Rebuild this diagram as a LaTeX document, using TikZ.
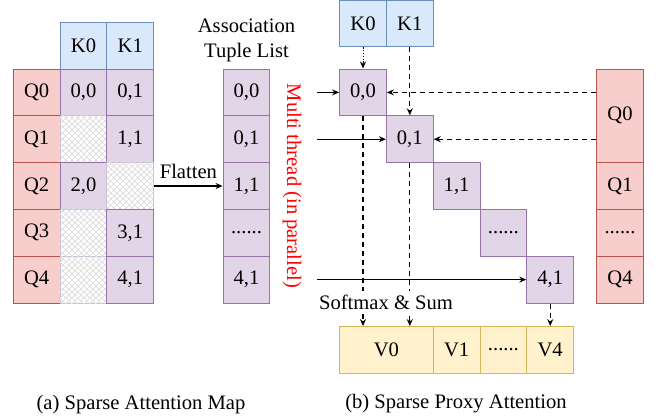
\documentclass[tikz,border=0pt]{standalone}
\usepackage{fontspec}
\setmainfont{Liberation Serif}
\usetikzlibrary{arrows.meta,patterns}

\definecolor{qfill}{HTML}{F8CECC}
\definecolor{qline}{HTML}{B85450}
\definecolor{kfill}{HTML}{DAE8FC}
\definecolor{kline}{HTML}{6C8EBF}
\definecolor{pfill}{HTML}{E1D5E7}
\definecolor{pline}{HTML}{9673A6}
\definecolor{vfill}{HTML}{FFF2CC}
\definecolor{vline}{HTML}{D6B656}

\tikzset{
  cell/.style={draw, line width=0.5pt, minimum width=23.4pt, minimum height=23.4pt, inner sep=0pt},
  qcell/.style={cell, draw=qline, fill=qfill},
  kcell/.style={cell, draw=kline, fill=kfill},
  pcell/.style={cell, draw=pline, fill=pfill},
  vcell/.style={cell, draw=vline, fill=vfill},
  emptycell/.style={cell, draw=pline!45, pattern=north east lines, pattern color=black!12,
    postaction={pattern=north west lines, pattern color=black!12}},
  arr/.style={-{Stealth[length=3.5pt,width=3pt]}, line width=0.6pt},
  dasharr/.style={arr, dash pattern=on 2.5pt off 2pt},
}

\begin{document}
\begin{tikzpicture}[x=0.5pt, y=-0.5pt, font=\rmfamily\fontsize{10.3}{12.4}\selectfont]
    \useasboundingbox (0,0) rectangle (656,418);

    % (a) sparse attention map
    \node[kcell] (k0) at (83.5,46) {K0};
    \node[kcell] (k1) at (130.3,46) {K1};
    \foreach \i in {0,...,4}
        \node[qcell] (q\i) at (36.7,92.4+46.8*\i) {Q\i};
    \node[pcell] (a00) at (83.5,92.4) {0,0};
    \node[pcell] (a01) at (130.3,92.4) {0,1};
    \node[emptycell] (a10) at (83.5,139.2) {};
    \node[pcell] (a11) at (130.3,139.2) {1,1};
    \node[pcell] (a20) at (83.5,186) {2,0};
    \node[emptycell] (a21) at (130.3,186) {};
    \node[emptycell] (a30) at (83.5,232.8) {};
    \node[pcell] (a31) at (130.3,232.8) {3,1};
    \node[emptycell] (a40) at (83.5,279.6) {};
    \node[pcell] (a41) at (130.3,279.6) {4,1};

    % tuple list
    \node[align=center] (tlabel) at (246.5,40) {Association\\Tuple List};
    \node[pcell] (t0) at (246.5,92.4) {0,0};
    \node[pcell] (t1) at (246.5,139.2) {0,1};
    \node[pcell] (t2) at (246.5,186) {1,1};
    \node[pcell] (t3) at (246.5,232.8) {......};
    \node[pcell] (t4) at (246.5,279.6) {4,1};
    \draw[arr] (a21.east) -- (t2.west) node[midway, above] {Flatten};
    \node[red, rotate=-90] (mt) at (292,186) {Multi thread (in parallel)};

    % (b) sparse proxy attention
    \node[kcell] (rk0) at (363,23.4) {K0};
    \node[kcell] (rk1) at (409.8,23.4) {K1};
    \node[pcell] (d0) at (363,92.4) {0,0};
    \node[pcell] (d1) at (409.8,139.2) {0,1};
    \node[pcell] (d2) at (456.6,186) {1,1};
    \node[pcell] (d3) at (503.4,232.8) {......};
    \node[pcell] (d4) at (550.2,279.6) {4,1};
    \node[qcell, minimum height=46.8pt] (rq0) at (620,115.8) {Q0};
    \node[qcell] (rq1) at (620,186) {Q1};
    \node[qcell] (rq2) at (620,232.8) {......};
    \node[qcell] (rq4) at (620,279.6) {Q4};
    \node[vcell, minimum width=46.8pt] (v0) at (386.4,350) {V0};
    \node[vcell] (v1) at (456.6,350) {V1};
    \node[vcell] (v2) at (503.4,350) {......};
    \node[vcell] (v4) at (550.2,350) {V4};

    \coordinate (s0) at (317,92.4);
    \coordinate (s1) at (317,139.2);
    \coordinate (s4) at (317,279.6);
    \draw[arr] (s0) -- (d0);
    \draw[arr] (s1) -- (d1);
    \draw[arr] (s4) -- (d4);

    \draw[arr, line width=0.4pt, dash pattern=on 0.6pt off 0.8pt] (rk0) -- (d0);
    \draw[dasharr] (rk1) -- (d1);
    \draw[dasharr] (rq0.west |- d0) -- (d0);
    \draw[dasharr] (rq0.west |- d1) -- (d1);
    \draw[dasharr] (d0.south) -- (d0.south |- v0.north);
    \draw[dasharr] (d1.south) -- (d1.south |- v0.north);
    \draw[dasharr] (d4) -- (v4);
    \node[fill=white, inner sep=2pt] (sm) at (386,302) {Softmax \& Sum};

    % captions
    \node (capa) at (141,405) {(a) Sparse Attention Map};
    \node (capb) at (456,404) {(b) Sparse Proxy Attention};
\end{tikzpicture}
\end{document}
